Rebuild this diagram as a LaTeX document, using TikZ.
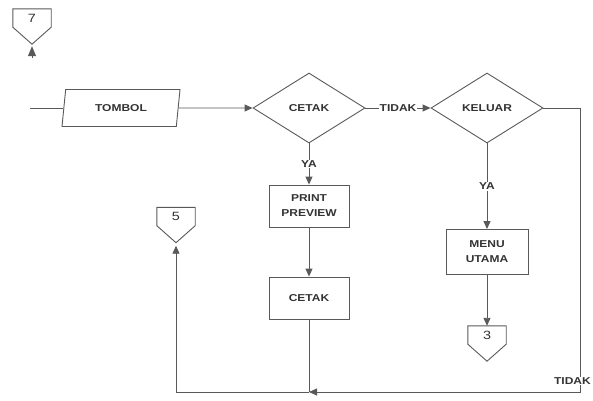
\documentclass[tikz,border=0pt]{standalone}
\usepackage{fontspec}
\setmainfont{Liberation Sans}[FakeStretch=1.2]
\usetikzlibrary{shapes.geometric,arrows.meta,calc}
\begin{document}
\begin{tikzpicture}[x=1pt,y=-1pt,
  line/.style={draw=black!65, line width=0.9pt},
  arr/.style={line, -{Triangle[length=8pt,width=7pt]}},
  lbl/.style={font=\fontsize{10}{15}\selectfont\bfseries, text=black!80},
  box/.style={lbl, draw=black!65, line width=0.9pt, minimum width=80pt, minimum height=42pt, align=center, inner sep=1pt},
  dec/.style={lbl, diamond, draw=black!65, line width=0.9pt, inner sep=0pt, minimum width=112pt, minimum height=70pt, aspect=1.6},
  io/.style={lbl, trapezium, trapezium left angle=75, trapezium right angle=105, trapezium stretches body, draw=black!65, line width=0.9pt, minimum width=118pt, minimum height=37pt},
  conn/.style={font=\fontsize{12}{13}\selectfont, text=black!80, minimum width=38pt, minimum height=18pt, inner sep=0pt},
  yes/.style={lbl, fill=white, inner sep=1pt},
]
\useasboundingbox (0,0) rectangle (593,400);
\clip (0,0) rectangle (593,400);

% connectors
\node[conn] (c7) at (32,18) {7};
\draw[line] (c7.south west) -- (c7.north west) -- (c7.north east) -- (c7.south east) -- ($(c7.south)+(0,17)$) coordinate (c7p) -- cycle;
\coordinate (c7in) at (32,58);
\draw[arr, -{Triangle[length=10pt,width=8pt]}, shorten >=2pt] (c7in) -- (c7p);

\node[conn] (c5) at (176,216.5) {5};
\draw[line] (c5.south west) -- (c5.north west) -- (c5.north east) -- (c5.south east) -- ($(c5.south)+(0,17)$) coordinate (c5p) -- cycle;

\node[conn] (c3) at (487,335) {3};
\draw[line] (c3.south west) -- (c3.north west) -- (c3.north east) -- (c3.south east) -- ($(c3.south)+(0,17)$) coordinate (c3p) -- cycle;

% main row
\coordinate (in) at (30,108);
\node[io] (tombol) at (121,108) {TOMBOL};
\node[dec] (cetak) at (309,108) {CETAK};
\node[dec] (keluar) at (487,108) {KELUAR};

\draw[line] (in) -- (tombol);
\draw[arr] (tombol) -- (cetak);
\draw[arr] (cetak) -- node[yes] {TIDAK} (keluar);

% print column
\node[box] (pp) at (309,206) {PRINT\\PREVIEW};
\node[box] (ck) at (309,298) {CETAK};
\draw[arr] (cetak) -- node[yes] {YA} (pp);
\draw[arr] (pp) -- (ck);

% menu column
\node[box, minimum width=82pt, minimum height=45pt] (menu) at (487,252) {MENU\\UTAMA};
\draw[arr] (keluar) -- node[yes] {YA} (menu);
\draw[arr] (menu) -- (c3);

% loop back
\coordinate (r1) at (580,108);
\coordinate (r2) at (580,392);
\coordinate (jn) at (309,392);
\coordinate (l1) at (176,392);
\draw[arr] (keluar) -- (r1) -- (r2) -- (jn);
\draw[arr, shorten >=3pt] (jn) -- (l1) -- (c5p);
\draw[line] (ck) -- (jn);
\node[yes, anchor=east] (tidak2) at (592,381) {TIDAK};
\end{tikzpicture}
\end{document}
